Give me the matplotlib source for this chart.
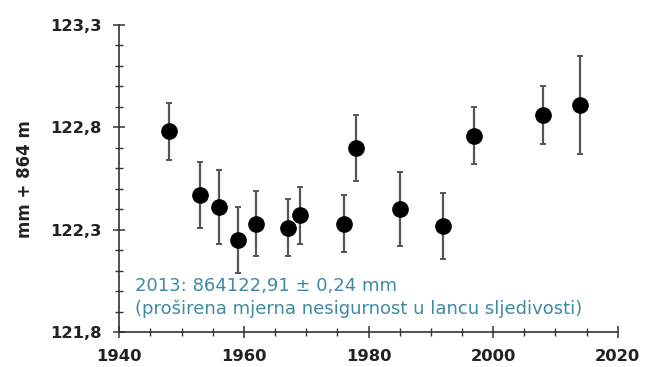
import matplotlib
matplotlib.use("Agg")
import matplotlib.pyplot as plt
from matplotlib.ticker import MultipleLocator, FuncFormatter

plt.rcParams['font.family'] = ['DejaVu Sans']

# measurement epochs and heights (mm + 864 m)
years = [1948, 1953, 1956, 1959, 1962, 1967, 1969, 1976, 1978, 1985, 1992, 1997, 2008, 2014]
heights = [122.78, 122.47, 122.41, 122.25, 122.33, 122.31, 122.37, 122.33, 122.70, 122.40,
           122.32, 122.76, 122.86, 122.91]
uncert = [0.14, 0.16, 0.18, 0.16, 0.16, 0.14, 0.14, 0.14, 0.16, 0.18, 0.16, 0.14, 0.14, 0.24]

note_lines = ["2013: 864122,91 \u00b1 0,24 mm",
              "(pro\u0161irena mjerna nesigurnost u lancu sljedivosti)"]

fig = plt.figure(figsize=(6.46, 3.67), dpi=100)
ax = fig.add_axes([0.1847, 0.0946, 0.7715, 0.8374])

ax.errorbar(years, heights, yerr=uncert, fmt='o', color='black', markersize=11,
            ecolor='#555555', elinewidth=1.6, capsize=2.5, capthick=1.4)

ax.set_xlim(1940, 2020)
ax.set_ylim(121.8, 123.3)
ax.xaxis.set_major_locator(MultipleLocator(20))
ax.xaxis.set_minor_locator(MultipleLocator(5))
ax.set_yticks([121.8, 122.3, 122.8, 123.3])
ax.yaxis.set_minor_locator(MultipleLocator(0.1))
ax.yaxis.set_major_formatter(FuncFormatter(lambda v, p: ('%.1f' % v).replace('.', ',')))

for s in ['top', 'right']:
    ax.spines[s].set_visible(False)
for s in ['left', 'bottom']:
    ax.spines[s].set_color('#333333')
    ax.spines[s].set_linewidth(1.2)

ax.tick_params(which='major', direction='inout', length=8, width=1.1, color='#333333',
               labelsize=11.8)
ax.tick_params(axis='y', which='major', pad=8.7)
ax.tick_params(axis='x', which='major', pad=8)
ax.tick_params(which='minor', direction='inout', length=6, width=1.0, color='#333333')
for lbl in ax.get_xticklabels() + ax.get_yticklabels():
    lbl.set_fontweight('bold')
    lbl.set_color('#222222')

ax.set_ylabel("mm + 864 m", fontsize=12, fontweight='bold', color='#222222')
ax.yaxis.set_label_coords(-0.171, 0.5)

ax.text(0.032, 0.151, note_lines[0], transform=ax.transAxes, fontsize=13,
        color='#3d8aa5', va='center')
ax.text(0.032, 0.076, note_lines[1], transform=ax.transAxes, fontsize=13,
        color='#3d8aa5', va='center')

fig.savefig("out.png", dpi=100)
